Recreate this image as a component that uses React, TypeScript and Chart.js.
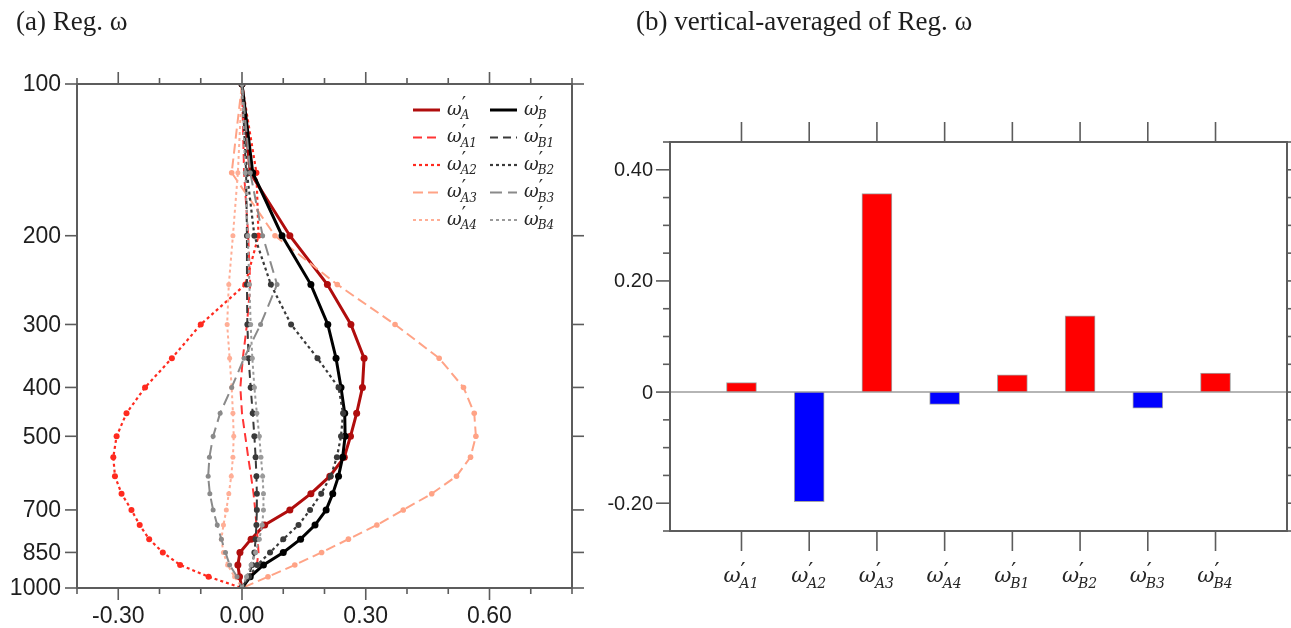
import React, { useEffect, useRef } from 'react';
import { Chart, registerables } from 'chart.js';

Chart.register(...registerables);

// ---------- data: panel (a) vertical profiles ----------
const pressureLevels = [100, 150, 200, 250, 300, 350, 400, 450, 500, 550, 600, 650, 700, 750, 800, 850, 900, 950, 1000];

const omegaA = [0, 0.02, 0.116, 0.207, 0.264, 0.296, 0.292, 0.278, 0.263, 0.248, 0.213, 0.167, 0.116, 0.055, 0.022, -0.005, -0.01, -0.006, 0];
const omegaA1 = [0, 0.005, 0.015, 0.02, 0.012, 0.002, -0.004, 0.0, 0.008, 0.015, 0.022, 0.028, 0.032, 0.035, 0.038, 0.04, 0.036, 0.022, 0];
const omegaA2 = [0, 0.035, 0.04, 0.008, -0.1, -0.17, -0.235, -0.28, -0.304, -0.312, -0.308, -0.292, -0.268, -0.248, -0.225, -0.192, -0.15, -0.081, 0];
const omegaA3 = [0, -0.025, 0.08, 0.231, 0.371, 0.478, 0.537, 0.563, 0.567, 0.554, 0.52, 0.46, 0.391, 0.327, 0.258, 0.193, 0.128, 0.063, 0];
const omegaA4 = [0, -0.01, -0.022, -0.032, -0.036, -0.03, -0.025, -0.022, -0.02, -0.022, -0.026, -0.032, -0.038, -0.045, -0.05, -0.045, -0.035, -0.018, 0];
const omegaB = [0, 0.026, 0.097, 0.167, 0.208, 0.228, 0.24, 0.249, 0.25, 0.244, 0.234, 0.22, 0.204, 0.177, 0.142, 0.1, 0.052, 0.02, 0];
const omegaB1 = [0, 0.01, 0.012, 0.012, 0.013, 0.016, 0.021, 0.026, 0.03, 0.033, 0.035, 0.036, 0.036, 0.035, 0.033, 0.03, 0.025, 0.015, 0];
const omegaB2 = [0, 0.012, 0.03, 0.07, 0.119, 0.183, 0.234, 0.245, 0.24, 0.23, 0.215, 0.192, 0.165, 0.137, 0.1, 0.068, 0.037, 0.017, 0];
const omegaB3 = [0, 0.02, 0.05, 0.085, 0.045, 0.005, -0.025, -0.053, -0.07, -0.079, -0.082, -0.078, -0.07, -0.06, -0.05, -0.04, -0.03, -0.012, 0];
const omegaB4 = [0, 0.008, 0.014, 0.018, 0.021, 0.025, 0.03, 0.036, 0.042, 0.046, 0.05, 0.052, 0.052, 0.049, 0.042, 0.033, 0.022, 0.011, 0];

const profileSubscripts = ['A', 'A1', 'A2', 'A3', 'A4', 'B', 'B1', 'B2', 'B3', 'B4'];
const profileValues = [omegaA, omegaA1, omegaA2, omegaA3, omegaA4, omegaB, omegaB1, omegaB2, omegaB3, omegaB4];

const pressureTicks = [100, 200, 300, 400, 500, 700, 850, 1000];
const profileMajorTicks = [-0.3, 0, 0.3, 0.6];
const profileMajorLabels = ['-0.30', '0.00', '0.30', '0.60'];
const profileMinorTicks = [-0.4, -0.3, -0.2, -0.1, 0, 0.1, 0.2, 0.3, 0.4, 0.5, 0.6, 0.7, 0.8];

// ---------- data: panel (b) vertical averages ----------
const barCategories = ['A1', 'A2', 'A3', 'A4', 'B1', 'B2', 'B3', 'B4'];
const barValues = [0.017, -0.197, 0.357, -0.022, 0.031, 0.137, -0.029, 0.034];
const barMajorTicks = [-0.2, 0, 0.2, 0.4];
const barMajorLabels = ['-0.20', '0', '0.20', '0.40'];
const barMinorTicks = [-0.25, -0.2, -0.15, -0.1, -0.05, 0, 0.05, 0.1, 0.15, 0.2, 0.25, 0.3, 0.35, 0.4, 0.45];

// ---------- styles ----------
const profileStyles = [
  { color: '#b00d0d', dash: [], width: 3, radius: 3.5 },
  { color: '#ff3535', dash: [9, 5], width: 2, radius: 0 },
  { color: '#ff2a1f', dash: [3, 3], width: 2.2, radius: 3 },
  { color: '#ffa386', dash: [10, 5], width: 2, radius: 2.8 },
  { color: '#ffae96', dash: [3, 3], width: 2, radius: 2.5 },
  { color: '#000000', dash: [], width: 3, radius: 3.5 },
  { color: '#3a3a3a', dash: [8, 5], width: 2, radius: 3 },
  { color: '#3a3a3a', dash: [3, 3], width: 2.2, radius: 3 },
  { color: '#8a8a8a', dash: [12, 6], width: 2, radius: 2.5 },
  { color: '#9a9a9a', dash: [3, 3], width: 2, radius: 2.5 },
];

const AXIS_COLOR = '#5c5c5c';
const TEXT_COLOR = '#1e1e1e';
const LABEL_COLOR = '#262626';

function drawOmega(
  ctx: CanvasRenderingContext2D,
  x: number,
  y: number,
  sub: string,
  size: number,
  subSize: number,
  align: 'left' | 'center'
) {
  ctx.save();
  ctx.fillStyle = LABEL_COLOR;
  ctx.textAlign = 'left';
  ctx.textBaseline = 'alphabetic';
  const fO = `italic ${size}px "DejaVu Serif"`;
  const fS = `italic ${subSize}px "DejaVu Serif"`;
  const pSize = Math.round(subSize * 1.6);
  const fP = `${pSize}px "DejaVu Sans"`;
  ctx.font = fO;
  const wO = ctx.measureText('ω').width;
  ctx.font = fS;
  const wS = ctx.measureText(sub).width;
  const total = wO + wS;
  const x0 = align === 'center' ? x - total / 2 : x;
  const base = y + size * 0.26;
  ctx.font = fO;
  ctx.fillText('ω', x0, base);
  ctx.font = fP;
  const primeBase = base - size * 0.18 - 1;
  ctx.fillText('′', x0 + wO, primeBase);
  ctx.font = fS;
  ctx.fillText(sub, x0 + wO - 1, base + subSize * 0.4);
  ctx.restore();
}

function seg(ctx: CanvasRenderingContext2D, x1: number, y1: number, x2: number, y2: number) {
  ctx.beginPath();
  ctx.moveTo(x1, y1);
  ctx.lineTo(x2, y2);
  ctx.stroke();
}

const profileAxesPlugin = {
  id: 'profileAxes',
  afterDraw(chart: any) {
    const { ctx, chartArea: a } = chart;
    const xs = chart.scales.x;
    const ys = chart.scales.y;
    ctx.save();
    ctx.strokeStyle = AXIS_COLOR;
    ctx.lineWidth = 2;
    ctx.setLineDash([]);
    ctx.strokeRect(a.left, a.top, a.right - a.left, a.bottom - a.top);
    ctx.lineWidth = 1.6;
    for (const v of profileMinorTicks) {
      const px = xs.getPixelForValue(v);
      const major = profileMajorTicks.some((m) => Math.abs(m - v) < 1e-9);
      const len = major ? 12 : 6;
      seg(ctx, px, a.bottom, px, a.bottom + len);
      seg(ctx, px, a.top, px, a.top - len);
    }
    for (const p of pressureTicks) {
      const py = ys.getPixelForValue(p);
      seg(ctx, a.left - 12, py, a.left, py);
      seg(ctx, a.right, py, a.right + 12, py);
    }
    ctx.fillStyle = TEXT_COLOR;
    ctx.font = '23px "Liberation Sans"';
    ctx.textAlign = 'center';
    ctx.textBaseline = 'middle';
    profileMajorTicks.forEach((v, i) => {
      ctx.fillText(profileMajorLabels[i], xs.getPixelForValue(v), a.bottom + 29);
    });
    ctx.textAlign = 'right';
    pressureTicks.forEach((p) => {
      ctx.fillText(String(p), a.left - 16, ys.getPixelForValue(p) + 1);
    });

    // legend (2 columns x 5 rows)
    const ds = chart.data.datasets;
    ds.forEach((d: any, i: number) => {
      const col = i < 5 ? 0 : 1;
      const row = i % 5;
      const lx = a.right - 159 + col * 77;
      const ly = a.top + 26 + row * 27.5;
      ctx.save();
      ctx.strokeStyle = d.borderColor;
      ctx.lineWidth = d.borderWidth;
      ctx.setLineDash(d.borderDash || []);
      seg(ctx, lx, ly, lx + 27, ly);
      ctx.restore();
      drawOmega(ctx, lx + 34, ly, profileSubscripts[i], 18, 12, 'left');
    });
    ctx.restore();
  },
};

const barAxesPlugin = {
  id: 'barAxes',
  afterDatasetsDraw(chart: any) {
    const { ctx, chartArea: a } = chart;
    const ys = chart.scales.y;
    ctx.save();
    ctx.strokeStyle = '#9c9c9c';
    ctx.lineWidth = 1.6;
    const y0 = ys.getPixelForValue(0);
    seg(ctx, a.left, y0, a.right, y0);
    ctx.restore();
  },
  afterDraw(chart: any) {
    const { ctx, chartArea: a } = chart;
    const xs = chart.scales.x;
    const ys = chart.scales.y;
    ctx.save();
    ctx.strokeStyle = AXIS_COLOR;
    ctx.lineWidth = 2;
    ctx.strokeRect(a.left, a.top, a.right - a.left, a.bottom - a.top);
    ctx.lineWidth = 1.6;
    barCategories.forEach((_, i) => {
      const px = xs.getPixelForValue(i);
      seg(ctx, px, a.top, px, a.top - 20);
      seg(ctx, px, a.bottom, px, a.bottom + 20);
    });
    for (const v of barMinorTicks) {
      const py = ys.getPixelForValue(v);
      const major = barMajorTicks.some((m) => Math.abs(m - v) < 1e-9);
      const len = major ? 14 : 7;
      seg(ctx, a.left - len, py, a.left, py);
      seg(ctx, a.right, py, a.right + len, py);
    }
    ctx.fillStyle = TEXT_COLOR;
    ctx.font = '20px "Liberation Sans"';
    ctx.textAlign = 'right';
    ctx.textBaseline = 'middle';
    barMajorTicks.forEach((v, i) => {
      ctx.fillText(barMajorLabels[i], a.left - 17, ys.getPixelForValue(v) + 1);
    });
    barCategories.forEach((c, i) => {
      drawOmega(ctx, xs.getPixelForValue(i), a.bottom + 46, c, 21, 14, 'center');
    });
    ctx.restore();
  },
};

function ProfileChart() {
  const ref = useRef<HTMLCanvasElement>(null);
  useEffect(() => {
    if (!ref.current) return;
    const datasets = profileValues.map((vals, i) => {
      const s = profileStyles[i];
      return {
        label: 'ω′' + profileSubscripts[i],
        data: pressureLevels.map((p, k) => ({ x: vals[k], y: p })),
        showLine: true,
        borderColor: s.color,
        backgroundColor: s.color,
        borderWidth: s.width,
        borderDash: s.dash,
        pointRadius: s.radius,
        pointBackgroundColor: s.color,
        pointBorderWidth: 0,
        tension: 0,
        order: 10 - i,
      };
    });
    const chart = new Chart(ref.current, {
      type: 'scatter',
      data: { datasets },
      options: {
        animation: false,
        responsive: false,
        events: [],
        layout: { padding: { left: 77, top: 84, right: 595 - 572, bottom: 628 - 588 } },
        scales: {
          x: { type: 'linear', min: -0.4, max: 0.8, display: false },
          y: { type: 'logarithmic', min: 100, max: 1000, reverse: true, display: false },
        },
        plugins: { legend: { display: false }, tooltip: { enabled: false } },
      },
      plugins: [profileAxesPlugin],
    } as any);
    return () => chart.destroy();
  }, []);
  return (
    <canvas
      ref={ref}
      width={595}
      height={628}
      style={{ position: 'absolute', left: 0, top: 0, width: 595, height: 628 }}
    />
  );
}

function BarChart() {
  const ref = useRef<HTMLCanvasElement>(null);
  useEffect(() => {
    if (!ref.current) return;
    const chart = new Chart(ref.current, {
      type: 'bar',
      data: {
        datasets: [
          {
            label: 'vertical-averaged of Reg. ω',
            data: barValues.map((v, i) => ({ x: i, y: v })),
            backgroundColor: barValues.map((v) => (v >= 0 ? '#ff0000' : '#0000ff')),
            borderColor: 'rgba(90,90,90,0.55)',
            borderWidth: 1,
            barThickness: 30,
          },
        ],
      },
      options: {
        animation: false,
        responsive: false,
        events: [],
        layout: { padding: { left: 75, top: 142, right: 4, bottom: 628 - 531 } },
        scales: {
          x: { type: 'linear', min: -0.6, max: 7.6, display: false },
          y: { type: 'linear', min: -0.25, max: 0.45, display: false },
        },
        plugins: { legend: { display: false }, tooltip: { enabled: false } },
      },
      plugins: [barAxesPlugin],
    } as any);
    return () => chart.destroy();
  }, []);
  return (
    <canvas
      ref={ref}
      width={696}
      height={628}
      style={{ position: 'absolute', left: 595, top: 0, width: 696, height: 628 }}
    />
  );
}

export default function App() {
  const titleStyle: React.CSSProperties = {
    position: 'absolute',
    top: 6,
    fontFamily: '"Liberation Serif", serif',
    fontSize: 27,
    color: '#1e1e1e',
    whiteSpace: 'nowrap',
  };
  return (
    <div style={{ position: 'absolute', left: 0, top: 0, width: 1291, height: 628, background: '#ffffff', overflow: 'hidden' }}>
      <ProfileChart />
      <BarChart />
      <div style={{ ...titleStyle, left: 16 }}>(a) Reg. ω</div>
      <div style={{ ...titleStyle, left: 636 }}>(b) vertical-averaged of Reg. ω</div>
    </div>
  );
}
